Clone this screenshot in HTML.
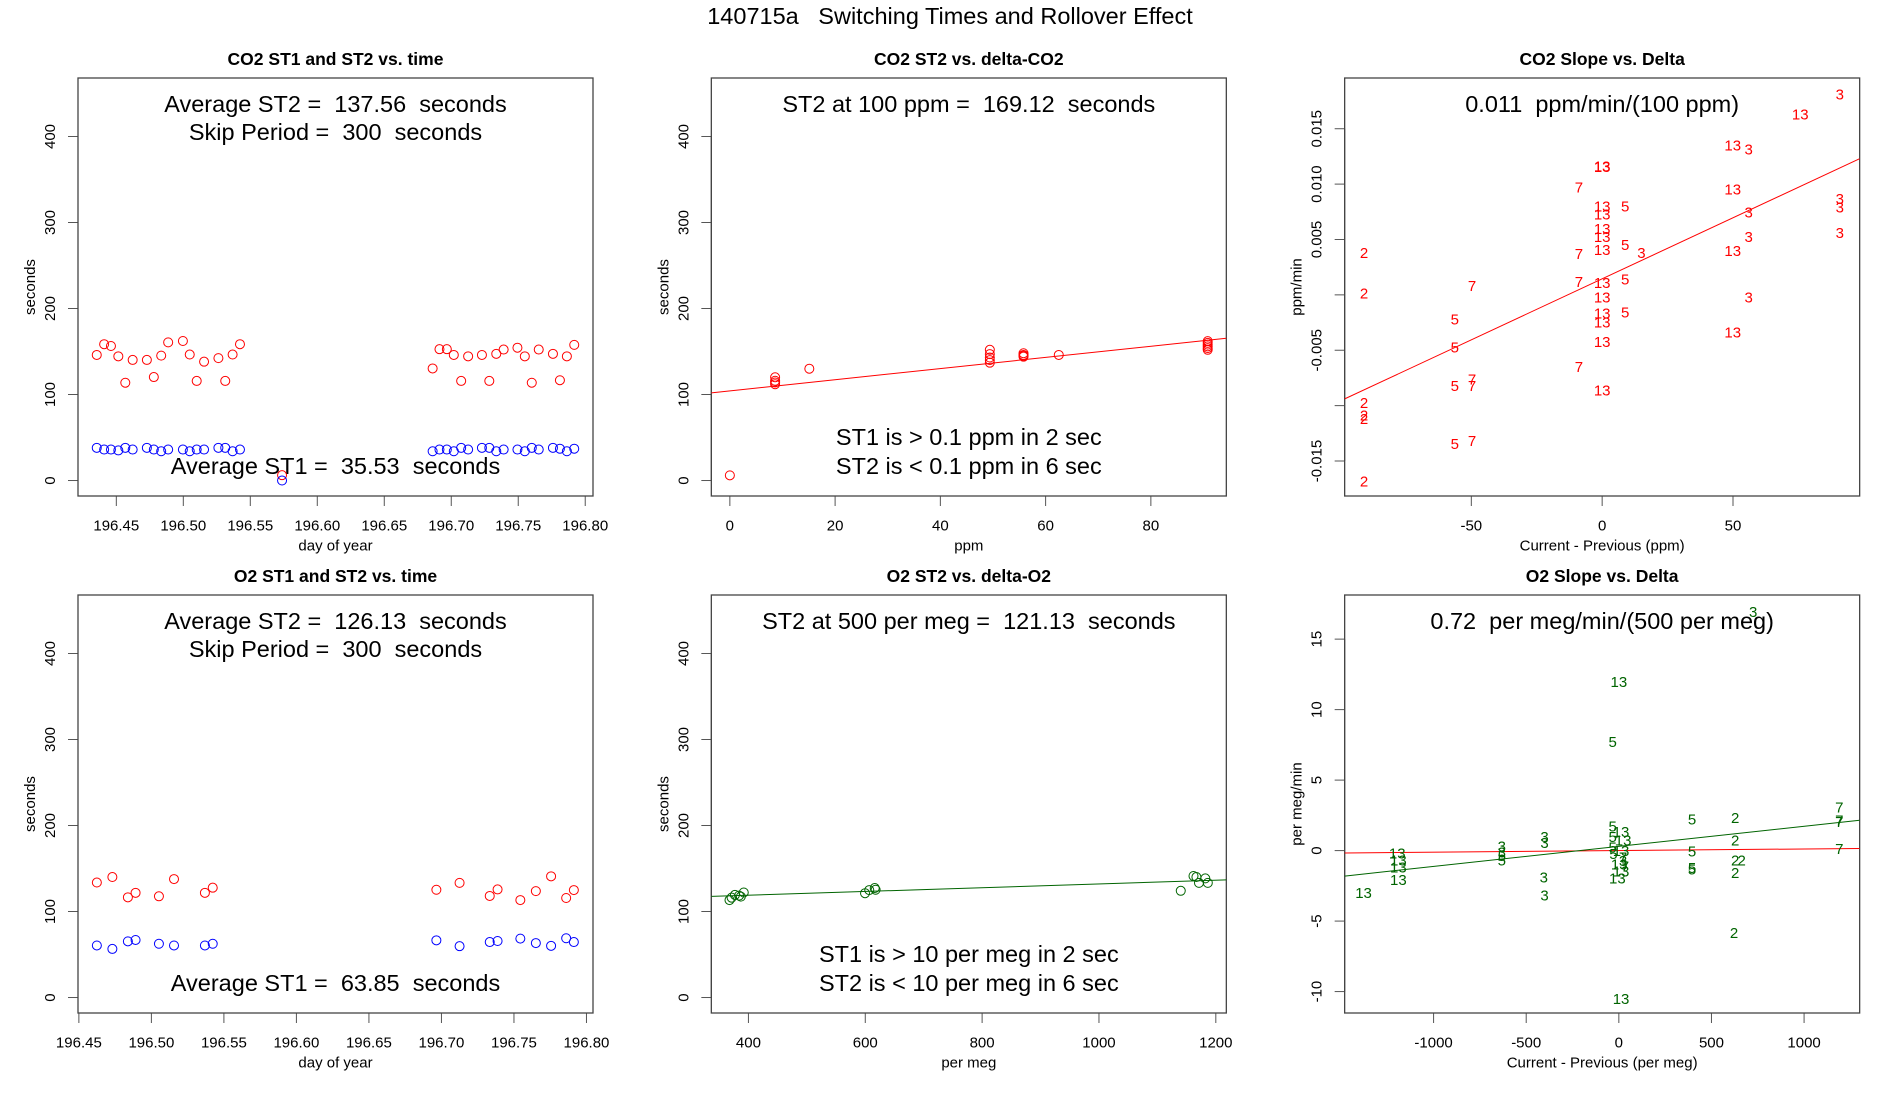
<!DOCTYPE html>
<html><head><meta charset="utf-8"><title>140715a Switching Times and Rollover Effect</title>
<style>
html,body{margin:0;padding:0;background:#fff;}
svg{display:block;font-family:"Liberation Sans",Arial,sans-serif;}
svg text{white-space:pre;}
</style></head>
<body>
<svg id="chart" width="1900" height="1100" viewBox="0 0 1900 1100" xmlns="http://www.w3.org/2000/svg">
<text x="950" y="24" text-anchor="middle" font-size="23.5" fill="#000" style="white-space:pre">140715a   Switching Times and Rollover Effect</text>
</svg>
<script>
// ---------- Data ----------
// Panel 1: CO2 ST1 and ST2 vs. time
const co2Time = [196.4354,196.4409,196.4460,196.4515,196.4567,196.4622,196.4728,196.4780,196.4835,196.4887,196.4997,196.5048,196.5100,196.5155,196.5262,196.5313,196.5368,196.5423,196.5737,196.6861,196.6912,196.6967,196.7019,196.7074,196.7126,196.7229,196.7284,196.7336,196.7391,196.7494,196.7549,196.7601,196.7653,196.7759,196.7811,196.7863,196.7918];
const co2ST2 = [146,158.5,156.4,144.4,113.7,140.2,140.2,120.3,145.2,160.6,162.2,146.5,115.8,138.2,142.3,115.8,146.5,158.5,6.2,130.3,152.7,152.7,146,115.8,144.4,146,115.8,147.3,152.3,154.4,144.4,113.7,152.3,147.3,116.6,144.4,157.7];
const co2ST1 = [38,36,36,35,38,36,38,36,34,36,36,34,36,36,38,38,34,36,0,34,36,36,34,38,36,38,38,34,36,36,34,38,36,38,37,34,37];
// Panel 2: CO2 ST2 vs delta-CO2
const co2Delta = [0,8.6,8.6,8.6,8.6,15.1,49.4,49.4,49.4,49.4,49.4,55.8,55.8,55.8,55.8,62.5,90.8,90.8,90.8,90.8,90.8,90.8];
const co2DeltaST2 = [6,120,116,114,112,130,152,147,143,140,137,148,146,145,144,146,162,160,158,156,154,152];
const co2Fit = [104.2,0.649]; // intercept, slope
// Panel 3: CO2 slope vs delta (label, x, y)
const co2SlopeLabels = ["3","13","13","3","13","13","7","13","13","13","5","3","3","3","13","13","5","13","3","3","2","7","3","13","7","7","5","13","2","13","3","5","5","13","13","13","13","5","7","13","5","7","7","2","2","2","5","7","2"];
const co2SlopeX = [90.8,75.7,49.9,56,0,0,-8.9,49.9,0,0,8.8,90.8,90.8,56,0,0,8.8,0,56,90.8,-91,-8.9,15,49.9,-49.7,-8.9,8.8,0,-91,0,56,-56.3,8.8,0,0,49.9,0,-56.3,-8.9,0,-56.3,-49.7,-49.7,-91,-91,-91,-56.3,-49.7,-91];
const co2SlopeY = [0.01813,0.01632,0.01352,0.01319,0.01158,0.01165,0.00974,0.00955,0.00803,0.00732,0.00803,0.00868,0.00794,0.00748,0.00600,0.00529,0.00455,0.00410,0.00529,0.00561,0.00384,0.00374,0.00384,0.00400,0.00084,0.00119,0.00142,0.00110,0.00019,-0.00019,-0.00019,-0.00219,-0.00155,-0.00165,-0.00245,-0.00335,-0.00423,-0.00471,-0.00648,-0.00858,-0.00819,-0.00761,-0.00819,-0.00971,-0.01084,-0.01116,-0.01342,-0.01316,-0.01681];
const co2SlopeFit = [0.00145,0.0001102];
// Panel 4: O2 ST1 and ST2 vs. time
const o2Time = [196.4624,196.4731,196.4838,196.4891,196.5052,196.5156,196.5369,196.5423,196.6965,196.7125,196.7333,196.7387,196.7544,196.7651,196.7756,196.7860,196.7913];
const o2ST2 = [133.7,140.1,116.5,121.7,117.7,137.7,121.7,127.7,125.3,133.3,118.1,125.7,113.3,123.7,140.9,115.7,124.9];
const o2ST1 = [60.5,56.5,65.3,66.9,62.5,60.5,60.5,62.5,66.5,59.7,64.5,65.7,68.5,63.3,60.1,68.9,64.5];
// Panel 5: O2 ST2 vs delta-O2
const o2Delta = [367.6,371.2,376.9,387,384,392,599.6,606.8,616.2,617.7,1140,1161.8,1166.8,1171.2,1182,1186.3];
const o2DeltaST2 = [113.3,116.1,119.3,117.3,118.5,122.1,121.3,124.9,127.3,125.3,124.1,141.3,140.1,133.3,138.5,133.3];
const o2Fit = [110.24,0.02178];
// Panel 6: O2 slope vs delta
const o2SlopeLabels = ["3","13","5","7","7","7","7","5","2","2","5","5","5","2","2","2","2","3","3","3","3","3","3","5","5","13","13","13","13","13","13","5","13","5","13","5","13","7","13","7","13","13","5","3"];
const o2SlopeX = [725,0,-33,1190,1190,1190,1190,395,628,628,395,395,395,628,663,628,622,-401,-401,-405,-401,-632,-632,-632,-632,-1196,-1190,-1190,-1190,-1378,12,-33,12,-33,23,-33,12,23,2,33,-8,12,-29,23];
const o2SlopeY = [16.95,12.01,7.73,3.08,2.18,2.05,0.15,2.23,2.35,0.76,-0.02,-1.2,-1.32,-0.66,-0.66,-1.57,-5.8,1.0,0.56,-1.88,-3.16,0.32,-0.1,-0.66,-0.34,-0.17,-0.66,-1.15,-2.05,-2.96,-10.49,1.74,1.37,1.0,0.76,0.27,0.02,-0.46,-0.95,-1.08,-1.93,-1.44,-0.22,-0.71];
const o2SlopeFitGreen = [0.299,0.001424];
const o2SlopeFitRed = [0.0003,0.000115];
// Tick arrays
const ticksSec = [0,100,200,300,400];
const ticksTime = [196.45,196.50,196.55,196.60,196.65,196.70,196.75,196.80];
const ticksPpm = [0,20,40,60,80];
const ticksDppm = [-50,0,50];
const ticksSlopeCO2 = [-0.015,-0.010,-0.005,0,0.005,0.010,0.015];
const tickLabelsSlopeCO2 = ["-0.015","","-0.005","","0.005","0.010","0.015"];
const ticksPermeg = [400,600,800,1000,1200];
const ticksDpermeg = [-1000,-500,0,500,1000];
const ticksSlopeO2 = [-10,-5,0,5,10,15];

const NS = "http://www.w3.org/2000/svg";
const svg = document.getElementById('chart');
function mk(parent, tag, attrs, name, inter) {
  const el = document.createElementNS(NS, tag);
  for (const k in attrs) el.setAttribute(k, attrs[k]);
  
  
  parent.appendChild(el);
  return el;
}
function txt(parent, s, attrs, name) {
  const t = mk(parent, 'text', attrs, name, false);
  t.textContent = s;
  return t;
}

function panel(id, col, row, o) {
  const bx = 78 + col * 633.33, bw = 515;
  const by = 78 + row * 517, bh = 418;
  const g = mk(svg, 'g', {}, id, false);
  const sx = v => bx + (v - o.xlim[0]) / (o.xlim[1] - o.xlim[0]) * bw;
  const sy = v => by + bh - (v - o.ylim[0]) / (o.ylim[1] - o.ylim[0]) * bh;
  const cx = bx + bw / 2;
  txt(g, o.title, {x: cx, y: by - 13, 'text-anchor': 'middle', 'font-size': 17.5, 'font-weight': 'bold'}, id + '-title');
  const cp = mk(g, 'clipPath', {id: id + '-clip'}, id + '-clip', false);
  mk(cp, 'rect', {x: bx, y: by, width: bw, height: bh}, id + '-clip-rect', false);
  // x axis
  const xa = mk(g, 'g', {}, id + '-x-axis', false);
  const xt = o.xticks;
  mk(xa, 'line', {x1: sx(xt[0]), x2: sx(xt[xt.length - 1]), y1: by + bh, y2: by + bh, stroke: '#000', 'stroke-width': 1}, id + '-x-axis-line', false);
  xt.forEach((v, i) => {
    mk(xa, 'line', {x1: sx(v), x2: sx(v), y1: by + bh, y2: by + bh + 10, stroke: '#555', 'stroke-width': 1}, id + '-x-tick', false);
    txt(xa, o.xlabels ? o.xlabels[i] : String(v), {x: sx(v), y: by + bh + 34.5, 'text-anchor': 'middle', 'font-size': 15}, id + '-x-tick-label');
  });
  txt(g, o.xtitle, {x: cx, y: by + bh + 54.5, 'text-anchor': 'middle', 'font-size': 15}, id + '-x-axis-title');
  // y axis
  const ya = mk(g, 'g', {}, id + '-y-axis', false);
  const yt = o.yticks;
  mk(ya, 'line', {x1: bx, x2: bx, y1: sy(yt[0]), y2: sy(yt[yt.length - 1]), stroke: '#000', 'stroke-width': 1}, id + '-y-axis-line', false);
  yt.forEach((v, i) => {
    const y = sy(v);
    mk(ya, 'line', {x1: bx - 10, x2: bx, y1: y, y2: y, stroke: '#555', 'stroke-width': 1}, id + '-y-tick', false);
    const lab = o.ylabels ? o.ylabels[i] : String(v);
    if (lab !== '') {
      const lx = bx - 23;
      txt(ya, lab, {x: lx, y: y, 'text-anchor': 'middle', 'font-size': 15, transform: 'rotate(-90 ' + lx + ' ' + y + ')'}, id + '-y-tick-label');
    }
  });
  const tx = bx - 43, ty = by + bh / 2;
  txt(g, o.ytitle, {x: tx, y: ty, 'text-anchor': 'middle', 'font-size': 15, transform: 'rotate(-90 ' + tx + ' ' + ty + ')'}, id + '-y-axis-title');
  mk(g, 'rect', {x: bx, y: by, width: bw, height: bh, fill: 'none', stroke: '#444', 'stroke-width': 1.3}, id + '-plot-box', false);
  (o.notes || []).forEach(n => {
    txt(g, n[0], {x: cx, y: by + n[1], 'text-anchor': 'middle', 'font-size': 23.5, style: 'white-space:pre'}, id + '-annotation');
  });
  const plot = mk(g, 'g', {'clip-path': 'url(#' + id + '-clip)'}, id + '-plot-area', false);
  return {sx, sy, plot, bx, bw};
}
function pts(p, xs, ys, color, name) {
  const g = mk(p.plot, 'g', {}, name, false);
  xs.forEach((x, i) => {
    mk(g, 'circle', {cx: p.sx(x), cy: p.sy(ys[i]), r: 4.5, fill: 'none', stroke: color, 'stroke-width': 1}, name + '-point', false);
  });
}
function labs(p, labels, xs, ys, color, name) {
  const g = mk(p.plot, 'g', {}, name, false);
  labels.forEach((s, i) => {
    txt(g, s, {x: p.sx(xs[i]), y: p.sy(ys[i]) + 5.5, 'text-anchor': 'middle', 'font-size': 15, fill: color}, name + '-label');
  });
}
function fit(p, xlim, coef, color, name) {
  mk(p.plot, 'line', {x1: p.sx(xlim[0]), y1: p.sy(coef[0] + coef[1] * xlim[0]), x2: p.sx(xlim[1]), y2: p.sy(coef[0] + coef[1] * xlim[1]), stroke: color, 'stroke-width': 1}, name, false);
}

const secLim = [-18, 468];
let xl = [196.4214, 196.8058];
let p = panel('co2-time-panel', 0, 0, {title: 'CO2 ST1 and ST2 vs. time', xlim: xl, ylim: secLim, xticks: ticksTime, xlabels: ticksTime.map(v => v.toFixed(2)), yticks: ticksSec, xtitle: 'day of year', ytitle: 'seconds',
  notes: [['Average ST2 =  137.56  seconds', 34], ['Skip Period =  300  seconds', 62], ['Average ST1 =  35.53  seconds', 396]]});
pts(p, co2Time, co2ST2, '#ff0000', 'co2-st2-series');
pts(p, co2Time, co2ST1, '#0000ff', 'co2-st1-series');
xl = [-3.52, 94.34];
p = panel('co2-delta-panel', 1, 0, {title: 'CO2 ST2 vs. delta-CO2', xlim: xl, ylim: secLim, xticks: ticksPpm, yticks: ticksSec, xtitle: 'ppm', ytitle: 'seconds',
  notes: [['ST2 at 100 ppm =  169.12  seconds', 34], ['ST1 is > 0.1 ppm in 2 sec', 367], ['ST2 is < 0.1 ppm in 6 sec', 396]]});
fit(p, xl, co2Fit, '#ff0000', 'co2-st2-fit-line');
pts(p, co2Delta, co2DeltaST2, '#ff0000', 'co2-delta-series');
xl = [-98.4, 98.4];
p = panel('co2-slope-panel', 2, 0, {title: 'CO2 Slope vs. Delta', xlim: xl, ylim: [-0.01816, 0.01958], xticks: ticksDppm, yticks: ticksSlopeCO2, ylabels: tickLabelsSlopeCO2, xtitle: 'Current - Previous (ppm)', ytitle: 'ppm/min',
  notes: [['0.011  ppm/min/(100 ppm)', 34]]});
fit(p, xl, co2SlopeFit, '#ff0000', 'co2-slope-fit-line');
labs(p, co2SlopeLabels, co2SlopeX, co2SlopeY, '#ff0000', 'co2-slope-series');
xl = [196.4494, 196.8045];
p = panel('o2-time-panel', 0, 1, {title: 'O2 ST1 and ST2 vs. time', xlim: xl, ylim: secLim, xticks: ticksTime, xlabels: ticksTime.map(v => v.toFixed(2)), yticks: ticksSec, xtitle: 'day of year', ytitle: 'seconds',
  notes: [['Average ST2 =  126.13  seconds', 34], ['Skip Period =  300  seconds', 62], ['Average ST1 =  63.85  seconds', 396]]});
pts(p, o2Time, o2ST2, '#ff0000', 'o2-st2-series');
pts(p, o2Time, o2ST1, '#0000ff', 'o2-st1-series');
xl = [336.5, 1218];
p = panel('o2-delta-panel', 1, 1, {title: 'O2 ST2 vs. delta-O2', xlim: xl, ylim: secLim, xticks: ticksPermeg, yticks: ticksSec, xtitle: 'per meg', ytitle: 'seconds',
  notes: [['ST2 at 500 per meg =  121.13  seconds', 34], ['ST1 is > 10 per meg in 2 sec', 367], ['ST2 is < 10 per meg in 6 sec', 396]]});
fit(p, xl, o2Fit, '#006400', 'o2-st2-fit-line');
pts(p, o2Delta, o2DeltaST2, '#006400', 'o2-delta-series');
xl = [-1480, 1300];
p = panel('o2-slope-panel', 2, 1, {title: 'O2 Slope vs. Delta', xlim: xl, ylim: [-11.52, 18.13], xticks: ticksDpermeg, yticks: ticksSlopeO2, xtitle: 'Current - Previous (per meg)', ytitle: 'per meg/min',
  notes: [['0.72  per meg/min/(500 per meg)', 34]]});
fit(p, xl, o2SlopeFitRed, '#ff0000', 'o2-slope-zero-line');
fit(p, xl, o2SlopeFitGreen, '#006400', 'o2-slope-fit-line');
labs(p, o2SlopeLabels, o2SlopeX, o2SlopeY, '#006400', 'o2-slope-series');
</script>
</body></html>
